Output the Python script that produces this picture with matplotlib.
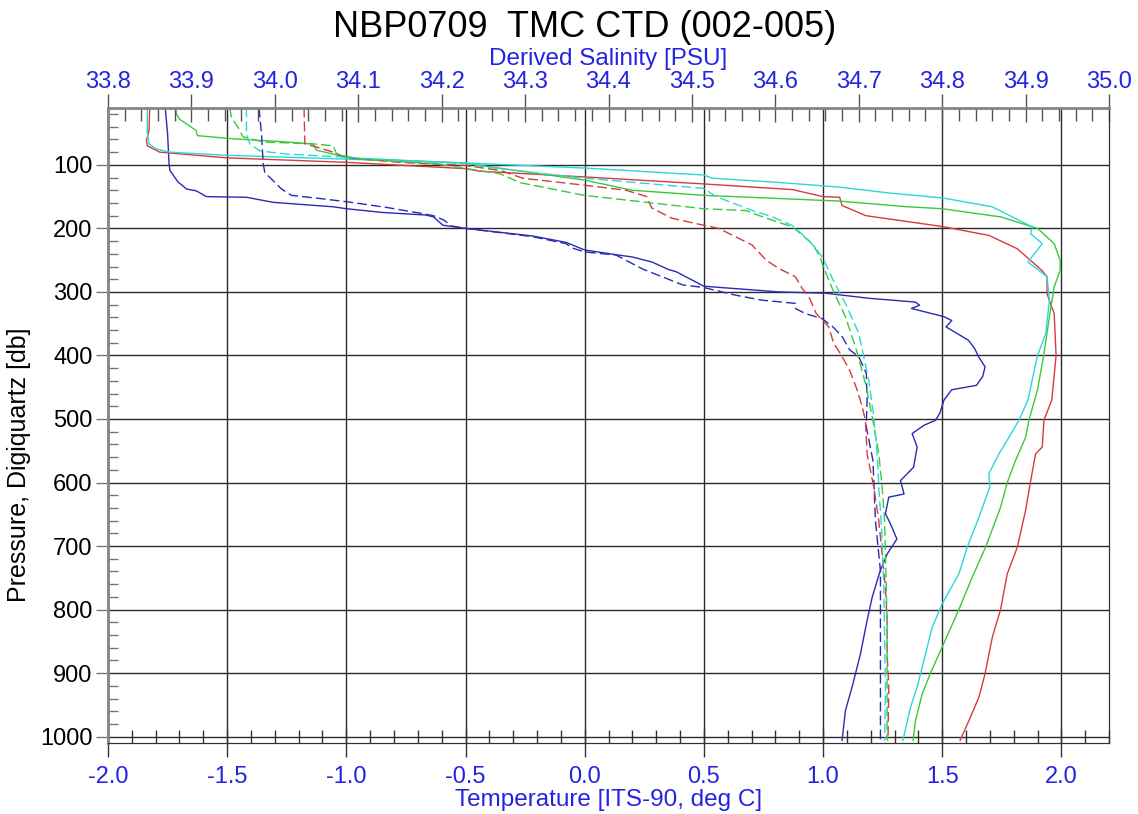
import matplotlib
matplotlib.use("Agg")
import matplotlib.pyplot as plt
from matplotlib.ticker import MultipleLocator, FormatStrFormatter

plt.rcParams["font.family"] = ["Liberation Sans", "DejaVu Sans"]

# Temperature profiles (solid lines), ITS-90 deg C vs pressure [db]
p_t_002 = [10, 51, 98, 109, 127, 138, 141, 150, 151, 159, 166, 169, 175, 179, 182, 195, 200, 212, 222, 234,
           242, 245, 253, 265, 268, 291, 300, 302, 310, 316, 321, 326, 339, 345, 355, 376, 389, 402, 418, 433,
           447, 454, 470, 491, 502, 510, 523, 544, 576, 597, 618, 623, 649, 665, 689, 712, 739, 781, 817, 870,
           922, 959, 1006]
t_002 = [-1.76, -1.75, -1.744, -1.74, -1.706, -1.67, -1.629, -1.587, -1.419, -1.307, -1.055, -1.0, -0.846,
         -0.665, -0.634, -0.595, -0.5, -0.218, -0.078, 0.0, 0.143, 0.2, 0.283, 0.353, 0.383, 0.5, 0.815, 1.01,
         1.193, 1.388, 1.405, 1.371, 1.508, 1.54, 1.516, 1.61, 1.636, 1.653, 1.68, 1.67, 1.644, 1.54, 1.508,
         1.49, 1.472, 1.423, 1.374, 1.395, 1.38, 1.325, 1.34, 1.276, 1.262, 1.283, 1.31, 1.27, 1.24, 1.206,
         1.185, 1.157, 1.122, 1.094, 1.08]

p_t_003 = [10, 46, 62, 70, 80, 89, 96, 106, 110, 119, 130, 139, 150, 151, 164, 180, 197, 211, 232, 266,
           276, 303, 334, 400, 470, 502, 544, 555, 600, 644, 702, 744, 800, 844, 901, 938, 975, 1006]
t_003 = [-1.825, -1.828, -1.839, -1.835, -1.783, -1.5, -1.0, -0.5, -0.44, 0.0, 0.5, 0.873, 1.0, 1.07, 1.08,
         1.18, 1.5, 1.696, 1.815, 1.918, 1.94, 1.94, 1.97, 1.978, 1.96, 1.927, 1.92, 1.892, 1.87, 1.85,
         1.815, 1.773, 1.745, 1.71, 1.68, 1.654, 1.612, 1.575]

p_t_004 = [10, 20, 28, 46, 54, 59, 64, 67, 77, 83, 89, 95, 97, 104, 124, 140, 148, 157, 166, 169,
           182, 200, 224, 250, 266, 292, 334, 400, 454, 502, 529, 565, 600, 639, 702, 749, 800, 859, 901, 933,
           975, 1006]
t_004 = [-1.716, -1.713, -1.70, -1.63, -1.625, -1.475, -1.25, -1.14, -1.125, -1.055, -1.0, -0.635, -0.5,
         -0.38, 0.0, 0.2, 0.5, 1.07, 1.354, 1.5, 1.747, 1.90, 1.97, 1.995, 1.995, 1.97, 1.952, 1.926, 1.90,
         1.864, 1.85, 1.808, 1.773, 1.745, 1.682, 1.626, 1.57, 1.50, 1.45, 1.416, 1.388, 1.378]

p_t_005 = [10, 51, 67, 75, 80, 85, 91, 97, 105, 116, 121, 127, 135, 144, 152, 166, 198, 208, 224, 253,
           276, 313, 365, 400, 470, 502, 529, 555, 586, 607, 655, 702, 744, 791, 828, 891, 922, 954, 1006]
t_005 = [-1.835, -1.835, -1.828, -1.797, -1.741, -1.5, -1.0, -0.5, 0.0, 0.5, 0.535, 0.79, 1.07, 1.27, 1.5,
         1.71, 1.88, 1.87, 1.92, 1.86, 1.94, 1.95, 1.935, 1.90, 1.86, 1.822, 1.78, 1.738, 1.696, 1.70,
         1.654, 1.605, 1.57, 1.50, 1.458, 1.416, 1.395, 1.367, 1.335]

# Salinity profiles (dashed lines), PSU vs pressure [db]
p_s_002 = [10, 51, 98, 112, 125, 138, 148, 153, 158, 167, 176, 180, 187, 196, 200, 213, 224, 231, 237, 242,
           264, 289, 293, 305, 313, 318, 326, 334, 342, 355, 370, 391, 402, 428, 470, 512, 565, 660, 739, 817,
           1006]
s_002 = [33.981, 33.984, 33.986, 33.988, 33.998, 34.008, 34.020, 34.054, 34.086, 34.134, 34.174, 34.190,
         34.203, 34.211, 34.229, 34.309, 34.349, 34.357, 34.371, 34.409, 34.441, 34.489, 34.514, 34.552,
         34.584, 34.624, 34.624, 34.636, 34.656, 34.669, 34.680, 34.689, 34.700, 34.709, 34.710, 34.709,
         34.717, 34.720, 34.726, 34.726, 34.726]

p_s_003 = [10, 67, 72, 80, 89, 96, 101, 109, 121, 132, 140, 150, 160, 168, 176, 184, 195, 200, 213, 226,
           250, 263, 276, 294, 307, 334, 355, 381, 397, 423, 454, 480, 502, 555, 607, 660, 712, 765, 817, 870,
           922, 1006]
s_003 = [34.035, 34.036, 34.050, 34.070, 34.086, 34.150, 34.229, 34.271, 34.297, 34.371, 34.421, 34.446,
         34.449, 34.452, 34.464, 34.476, 34.514, 34.532, 34.552, 34.572, 34.589, 34.604, 34.624, 34.632,
         34.640, 34.649, 34.664, 34.670, 34.678, 34.689, 34.698, 34.704, 34.708, 34.710, 34.718, 34.724,
         34.728, 34.732, 34.734, 34.734, 34.736, 34.735]

p_s_004 = [10, 25, 46, 56, 64, 67, 70, 83, 91, 98, 114, 128, 148, 169, 172, 180, 198, 225, 246, 255,
           297, 339, 386, 449, 496, 554, 607, 660, 712, 765, 817, 1006]
s_004 = [33.946, 33.948, 33.958, 33.962, 33.986, 34.046, 34.070, 34.074, 34.102, 34.190, 34.270, 34.294,
         34.371, 34.514, 34.565, 34.581, 34.621, 34.645, 34.654, 34.656, 34.669, 34.684, 34.696, 34.709,
         34.716, 34.724, 34.728, 34.731, 34.732, 34.733, 34.734, 34.734]

p_s_005 = [10, 51, 67, 78, 83, 88, 93, 98, 103, 121, 137, 150, 172, 182, 196, 220, 246, 281, 318, 365,
           439, 496, 554, 607, 686, 765, 922, 1006]
s_005 = [33.966, 33.966, 33.970, 33.982, 34.014, 34.086, 34.150, 34.231, 34.250, 34.371, 34.514, 34.529,
         34.573, 34.597, 34.621, 34.641, 34.657, 34.669, 34.684, 34.700, 34.712, 34.718, 34.722, 34.724,
         34.728, 34.730, 34.732, 34.731]

cast_colors = ["#2a2ab4", "#d43c3c", "#3cc83c", "#2ad8dc"]
label_blue = "#2424e0"

fig = plt.figure(figsize=(11.38, 8.14), dpi=100)
W, H = 1138.0, 814.0
ax = fig.add_axes([108 / W, 1 - 742.7 / H, (1109 - 108) / W, (742.7 - 108) / H])
ax2 = ax.twiny()

ax.set_xlim(-2.0, 2.2)
ax.set_ylim(1009.5, 10.5)
ax2.set_xlim(33.8, 35.0)

temps = [(p_t_002, t_002), (p_t_003, t_003), (p_t_004, t_004), (p_t_005, t_005)]
sals = [(p_s_002, s_002), (p_s_003, s_003), (p_s_004, s_004), (p_s_005, s_005)]
for (p, t), c in zip(temps, cast_colors):
    ax.plot(t, p, color=c, lw=1.0)
for (p, s), c in zip(sals, cast_colors):
    ax2.plot(s, p, color=c, lw=1.0, linestyle=(0, (7, 3)))

# grid from the temperature / pressure axes
ax.xaxis.set_major_locator(MultipleLocator(0.5))
ax.xaxis.set_minor_locator(MultipleLocator(0.1))
ax.xaxis.set_major_formatter(FormatStrFormatter("%.1f"))
ax.yaxis.set_major_locator(MultipleLocator(100))
ax.yaxis.set_minor_locator(MultipleLocator(20))
ax.grid(True, which="major", color="#2a2a2a", lw=1.0)
ax.set_axisbelow(True)

ax2.xaxis.set_major_locator(MultipleLocator(0.1))
ax2.xaxis.set_minor_locator(MultipleLocator(0.02))
ax2.xaxis.set_major_formatter(FormatStrFormatter("%.1f"))

ax.tick_params(axis="x", which="major", direction="inout", length=19.5, width=1.0, color="#333333",
               labelcolor=label_blue, labelsize=17, pad=7, top=False)
ax.tick_params(axis="x", which="minor", direction="in", length=9.5, width=1.0, color="#333333", top=False)
ax.tick_params(axis="y", which="major", direction="out", length=8.5, width=1.0, color="#777777",
               labelsize=17, pad=2.5, right=False)
ax.tick_params(axis="y", which="minor", direction="in", length=7.5, width=1.0, color="#777777", right=False)
ax2.tick_params(axis="x", which="major", direction="inout", length=19.5, width=1.0, color="#555555",
                labelcolor=label_blue, labelsize=17, pad=1)
ax2.tick_params(axis="x", which="minor", direction="in", length=9.5, width=1.0, color="#555555")

for a in (ax, ax2):
    a.spines["left"].set_color("#888888")
    a.spines["left"].set_linewidth(1.8)
    a.spines["top"].set_color("#888888")
    a.spines["top"].set_linewidth(1.8)
    a.spines["bottom"].set_color("#333333")
    a.spines["right"].set_color("#333333")

fig.text(585 / W, 1 - 36.7 / H, "NBP0709  TMC CTD (002-005)", ha="center", va="baseline",
         fontsize=26, color="black")
fig.text(608 / W, 1 - 65 / H, "Derived Salinity [PSU]", ha="center", va="baseline",
         fontsize=17.5, color=label_blue)
fig.text(608.5 / W, 1 - 806 / H, "Temperature [ITS-90, deg C]", ha="center", va="baseline",
         fontsize=17.5, color=label_blue)
fig.text(19 / W, 1 - 465 / H, "Pressure, Digiquartz [db]", ha="center", va="center",
         rotation=90, fontsize=18, color="black")

fig.savefig("out.png", dpi=100)
